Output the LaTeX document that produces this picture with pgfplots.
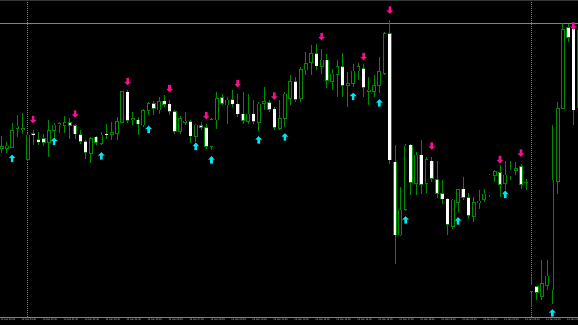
\documentclass[border=0pt]{standalone}
\usepackage{pgfplots}
\pgfplotsset{compat=1.18}
\usepackage{pgfplotstable}
\usepackage{fontspec}
\setmainfont{Liberation Sans}
\definecolor{mtgreen}{RGB}{0,140,0}
\definecolor{arrcyan}{RGB}{0,230,240}
\definecolor{arrmag}{RGB}{240,20,140}
\definecolor{sepgray}{RGB}{128,128,128}

\pgfdeclareplotmark{uparr}{%
  \pgfpathmoveto{\pgfqpoint{0pt}{3.8pt}}%
  \pgfpathlineto{\pgfqpoint{3.4pt}{0.3pt}}%
  \pgfpathlineto{\pgfqpoint{1.3pt}{0.3pt}}%
  \pgfpathlineto{\pgfqpoint{1.3pt}{-3.7pt}}%
  \pgfpathlineto{\pgfqpoint{-1.3pt}{-3.7pt}}%
  \pgfpathlineto{\pgfqpoint{-1.3pt}{0.3pt}}%
  \pgfpathlineto{\pgfqpoint{-3.4pt}{0.3pt}}%
  \pgfpathclose\pgfusepathqfill}
\pgfdeclareplotmark{downarr}{%
  \pgfpathmoveto{\pgfqpoint{0pt}{-3.8pt}}%
  \pgfpathlineto{\pgfqpoint{3.4pt}{-0.3pt}}%
  \pgfpathlineto{\pgfqpoint{1.3pt}{-0.3pt}}%
  \pgfpathlineto{\pgfqpoint{1.3pt}{3.7pt}}%
  \pgfpathlineto{\pgfqpoint{-1.3pt}{3.7pt}}%
  \pgfpathlineto{\pgfqpoint{-1.3pt}{-0.3pt}}%
  \pgfpathlineto{\pgfqpoint{-3.4pt}{-0.3pt}}%
  \pgfpathclose\pgfusepathqfill}

% bullish candles: k open high low close
\pgfplotstableread{
k o h l c
0 176.5 189 172 178.5
1 176.5 183.5 172 179
2 177.5 202.5 177 194.5
3 196.5 210 188.5 199
4 195.5 212.5 191.5 196.5
5 165.5 192 164 190
9 182.5 205 168.5 194.5
10 194.5 202.5 186.5 200
11 200.5 203.5 192 201.5
12 199.5 209 192 202.5
17 171.5 188.5 162.5 186.5
19 181.5 193.5 180 190
21 190.5 203.5 185 192.5
22 191.5 208.5 185.5 203.5
23 202.5 234 202 233.5
25 205.5 213.5 200 206.5
27 200 216.5 198.5 214.5
28 214.5 223.5 210 221.5
30 215 228.5 211.5 223.5
34 193.5 209 191.5 206.5
35 202.5 213.5 200 204
37 188.5 201.5 183.5 200
40 178.5 207.5 175 205.5
41 205 233.5 196.5 226.5
43 220 228.5 201.5 225
47 203.5 231.5 201.5 211
49 202.5 223.5 194.5 221
50 221.5 238.5 215 223.5
53 196.5 225 195 206.5
54 206.5 233.5 198 231
55 226.5 250 220 243.5
57 226.5 258.5 223.5 255.5
58 255 273.5 250 261.5
59 262.5 280 250 271.5
61 258.5 276.5 251.5 265
63 243.5 256.5 235 251
64 250.5 265 228.5 258.5
66 239.5 253.5 218.5 241.5
67 241.5 261.5 238 254
68 254 262 245 258.5
70 233.5 248.5 220 235
71 233.5 250 228.5 239.5
72 239.5 268.5 232 253.5
73 251.5 293.5 250 291.5
76 90 138.5 89.5 115
77 115.5 181.5 114 179
79 141.5 173.5 130 170
81 141.5 168.5 132.5 165.5
86 98.5 126.5 96.5 125
87 122.5 136.5 113.5 135.5
90 108.5 128.5 103.5 122.5
91 122 135.5 116.5 124
92 125.5 136.5 123.5 131
93 130 151.5 128.5 150
94 149.5 155 143.5 153.5
96 141.5 164 135 150
97 149 164 145 155
98 154.5 163.5 150 156.5
100 142 146.5 135 142.5
101 33.5 50 18.5 40
103 28.5 65.5 25.5 41.5
104 39.5 65.5 35 49
105 35 200.5 21.5 145
106 143.5 223.5 131.5 216.5
107 216.5 302.5 216.5 295.5
110 217 302 213 295
}\bull

% bearish candles: k open high low close
\pgfplotstableread{
k o h l c
6 191.5 195 180 190.5
7 185.5 193.5 180 183
8 186.5 191.5 179 182.5
13 202.5 207 186.5 199.5
14 199.5 201.5 186.5 191
15 190.5 195 181 183.5
16 183.5 185 166.5 172.5
18 188 189.5 180 182.5
20 191 201.5 186.5 190
24 233 235 202 204.5
26 205 208.5 190 201
29 221.5 224 210 216.5
31 224 230 218.5 220.5
32 221 225 210 213.5
33 213.5 215.5 191.5 193.5
36 203.5 205 182.5 189
38 199.5 203.5 195 197.5
39 197.5 201.5 176.5 178.5
42 227.5 231.5 220 221.5
44 225.5 235 218.5 221
45 221 231.5 208.5 211
46 211 233.5 201.5 204.5
48 211 225 201.5 203.5
51 222.5 225 213.5 215.5
52 216 218.5 195 197.5
56 243.5 248 223 225.5
60 271.5 281.5 255 259
62 265 271.5 237 244.5
65 258.5 272 228.5 239.5
69 256.5 261.5 228.5 237.5
74 291.5 305 161.5 165
75 163 180 61.5 90
78 180 181.5 130 142.5
80 170 185 131.5 140.5
82 164 168.5 143.5 146.5
83 145.5 164 127.5 131.5
84 131.5 145 121.5 126
85 126 127.5 90 100.5
88 136 148.5 125 127.5
89 127.5 132.5 106.5 109.5
95 152.5 160 128.5 140.5
99 158.5 161.5 136.5 140.5
102 38.5 39 25 32.5
108 297.5 301.5 283.5 287.5
109 296 302.5 200 215
}\bear

\pgfplotstableread{
k y
2 166.5
10 183.5
19 169
28 195.5
37 178.5
40 165
49 185
54 188
67 228.5
72 222
77 105
87 104
96 130.5
105 12
}\uparrows

\pgfplotstableread{
k y
6 205.5
14 211
24 243.5
32 236.5
39 209.5
45 241.5
52 229
61 288.5
69 268.5
74 315
82 179
95 165.5
99 172
109 299
}\downarrows

\begin{document}
\begin{tikzpicture}
\fill[black] (0,0) rectangle (578pt,325pt);
\begin{axis}[
  at={(0pt,8pt)}, anchor=south west,
  scale only axis, width=578pt, height=317pt,
  xmin=-0.324, xmax=109.875, ymin=8, ymax=325,
  axis x line*=bottom, axis y line=none,
  x axis line style={draw=sepgray, line width=0.8pt, -},
  ytick=\empty,
  xtick={0,4,...,108},
  xticklabels={12 Jan 22:45,12 Jan 23:45,13 Jan 00:45,13 Jan 01:45,13 Jan 02:45,13 Jan 03:45,13 Jan 04:45,13 Jan 05:45,13 Jan 06:45,13 Jan 07:45,13 Jan 08:45,13 Jan 09:45,13 Jan 10:45,13 Jan 11:45,13 Jan 12:45,13 Jan 13:45,13 Jan 14:45,13 Jan 15:45,13 Jan 16:45,13 Jan 17:45,13 Jan 18:45,13 Jan 19:45,13 Jan 20:45,13 Jan 21:45,13 Jan 22:45,13 Jan 23:45,14 Jan 00:45,14 Jan 01:45},
  major tick length=0pt,
  xticklabel style={font=\fontsize{2.5}{2.8}\selectfont, text=white!85!black, anchor=north west, inner sep=0pt, yshift=-2pt, xshift=-1.2pt},
  clip=true,
]
% period separators
\addplot[sepgray, line width=0.7pt, dash pattern=on 1pt off 1pt] coordinates {(4.9,8) (4.9,325)};
\addplot[sepgray, line width=0.7pt, dash pattern=on 1pt off 1pt] coordinates {(101,8) (101,325)};
% top border and bid line
\addplot[white!22!black, line width=1.6pt] coordinates {(-1,324.6) (112,324.6)};
\addplot[sepgray, line width=0.8pt] coordinates {(-1,301.7) (112,301.7)};

% wicks
\addplot[mtgreen, line width=0.9pt, -, quiver={u=0, v={\thisrow{h}-\thisrow{l}}}]
  table[x=k, y=l] {\bull};
\addplot[mtgreen, line width=0.9pt, -, quiver={u=0, v={\thisrow{h}-\thisrow{l}}}]
  table[x=k, y=l] {\bear};

% bodies: outline
\addplot[mtgreen, line width=3.7pt, -, quiver={u=0, v={abs(\thisrow{c}-\thisrow{o})+0.8}}]
  table[x=k, y expr={min(\thisrow{o},\thisrow{c})-0.4}] {\bull};
\addplot[mtgreen, line width=3.7pt, -, quiver={u=0, v={abs(\thisrow{c}-\thisrow{o})+0.8}}]
  table[x=k, y expr={min(\thisrow{o},\thisrow{c})-0.4}] {\bear};
% bodies: interior
\addplot[black, line width=2.1pt, -, quiver={u=0, v={max(abs(\thisrow{c}-\thisrow{o})-0.8,0)}}]
  table[x=k, y expr={min(\thisrow{o},\thisrow{c})+0.4}] {\bull};
\addplot[white, line width=2.7pt, -, quiver={u=0, v={max(abs(\thisrow{c}-\thisrow{o})-0.4,0)}}]
  table[x=k, y expr={min(\thisrow{o},\thisrow{c})+0.2}] {\bear};

% arrows
\addplot[only marks, mark=uparr, color=arrcyan] table[x=k, y=y] {\uparrows};
\addplot[only marks, mark=downarr, color=arrmag] table[x=k, y=y] {\downarrows};
\end{axis}
\pgfresetboundingbox
\useasboundingbox (0,0) rectangle (578pt,325pt);
\end{tikzpicture}
\end{document}
